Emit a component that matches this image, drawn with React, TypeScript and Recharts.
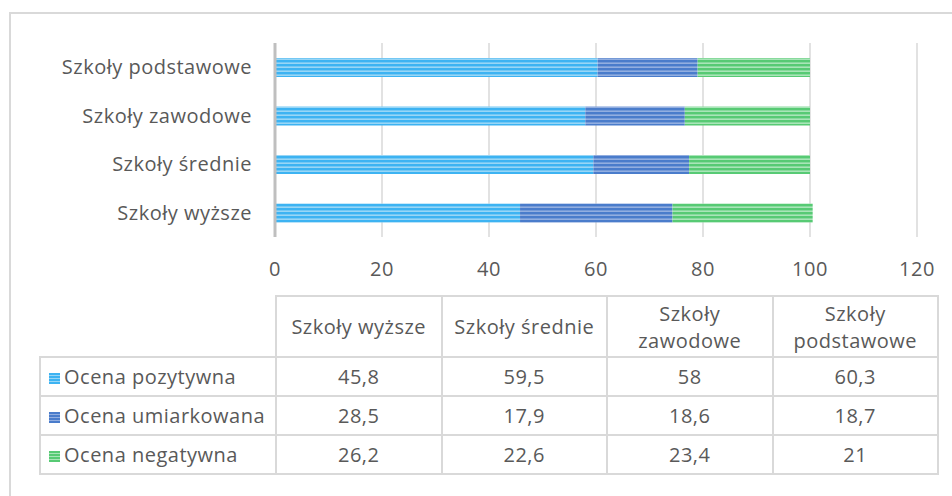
import React from "react";
import { BarChart, Bar, XAxis, YAxis, CartesianGrid } from "recharts";

const categories = ["Szkoły wyższe", "Szkoły średnie", "Szkoły zawodowe", "Szkoły podstawowe"];
const positive = [45.8, 59.5, 58, 60.3];
const moderate = [28.5, 17.9, 18.6, 18.7];
const negative = [26.2, 22.6, 23.4, 21];
const xTicks = [0, 20, 40, 60, 80, 100, 120];

const series = [
  { key: "pos", name: "Ocena pozytywna", values: positive, dark: "#3DB3F2", light: "#98D6F6" },
  { key: "mod", name: "Ocena umiarkowana", values: moderate, dark: "#4A7CCB", light: "#92AEE0" },
  { key: "neg", name: "Ocena negatywna", values: negative, dark: "#57CA74", light: "#A9E5B8" },
];

const data = categories.map((c, i) => ({ name: c, pos: positive[i], mod: moderate[i], neg: negative[i] }));

const FONT = "'Open Sans', sans-serif";
const TEXT = "#595959";
const LINE = "#D9D9D9";
const FS = 20;
const LS = 0.5;

const Swatch = ({ dark, light }: { dark: string; light: string }) => (
  <span
    style={{
      display: "inline-block",
      width: 11,
      height: 11,
      marginRight: 4,
      verticalAlign: "0px",
      background: `repeating-linear-gradient(to bottom, ${dark} 0px, ${dark} 2px, ${light} 2px, ${light} 3px)`,
    }}
  />
);

export default function App() {
  const cell: React.CSSProperties = { border: `2px solid ${LINE}`, textAlign: "center", padding: "0 6px", color: TEXT };
  const tickStyle = { fill: TEXT, fontSize: FS, fontFamily: FONT, letterSpacing: LS };
  return (
    <div style={{ position: "absolute", left: 0, top: 0, width: 952, height: 496, background: "#fff", overflow: "hidden", fontFamily: FONT }}>
      <div style={{ position: "absolute", left: 9, top: 12, width: 960, height: 500, border: `2px solid ${LINE}` }} />
      <div style={{ position: "absolute", left: 0, top: 0 }}>
        <BarChart width={952} height={300} data={data} layout="vertical" barSize={19} margin={{ top: 43, right: 35, left: 0, bottom: 0 }}>
          <defs>
            {series.map((s) => (
              <pattern key={s.key} id={`stripe-${s.key}`} width="8" height="4" patternUnits="userSpaceOnUse">
                <rect width="8" height="4" fill={s.light} />
                <rect width="8" height="2.4" fill={s.dark} />
              </pattern>
            ))}
          </defs>
          <CartesianGrid horizontal={false} stroke={LINE} strokeWidth={1.5} />
          <XAxis
            type="number"
            domain={[0, 120]}
            ticks={xTicks}
            axisLine={false}
            tickLine={false}
            tickSize={0}
            tickMargin={25}
            height={63}
            tick={tickStyle}
          />
          <YAxis
            type="category"
            dataKey="name"
            reversed
            width={275}
            axisLine={{ stroke: "#BFBFBF", strokeWidth: 3 }}
            tickLine={false}
            tickSize={0}
            tickMargin={23}
            tick={tickStyle}
          />
          {series.map((s) => (
            <Bar key={s.key} dataKey={s.key} name={s.name} stackId="a" fill={`url(#stripe-${s.key})`} isAnimationActive={false} />
          ))}
        </BarChart>
      </div>
      <table
        style={{
          position: "absolute",
          left: 39,
          top: 295,
          borderCollapse: "collapse",
          fontSize: FS,
          letterSpacing: LS,
          fontFamily: FONT,
          tableLayout: "fixed",
          width: 898,
        }}
      >
        <colgroup>
          <col style={{ width: 236 }} />
          {categories.map((c) => (
            <col key={c} style={{ width: 165.5 }} />
          ))}
        </colgroup>
        <tbody>
          <tr style={{ height: 61 }}>
            <td style={{ border: "none" }} />
            {categories.map((c) => (
              <td key={c} style={{ ...cell, lineHeight: "27px" }}>
                {c}
              </td>
            ))}
          </tr>
          {series.map((s) => (
            <tr key={s.key} style={{ height: 39 }}>
              <td style={{ ...cell, textAlign: "left", padding: "0 0 0 8px", whiteSpace: "nowrap" }}>
                <Swatch dark={s.dark} light={s.light} />
                {s.name}
              </td>
              {s.values.map((v, i) => (
                <td key={i} style={cell}>
                  {String(v).replace(".", ",")}
                </td>
              ))}
            </tr>
          ))}
        </tbody>
      </table>
    </div>
  );
}
